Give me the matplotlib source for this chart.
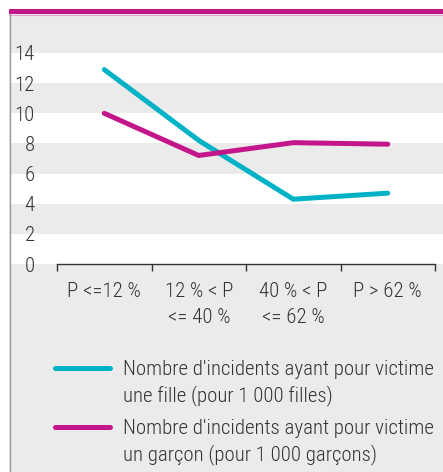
import matplotlib
matplotlib.use("Agg")
import matplotlib.pyplot as plt
import numpy as np
from matplotlib.lines import Line2D
from matplotlib.patches import Rectangle

categories = ["P <=12 %", "12 % < P\n<= 40 %", "40 % < P\n<= 62 %", "P > 62 %"]
filles = [12.9, 8.2, 4.3, 4.7]
garcons = [10.0, 7.2, 8.05, 7.95]
yticks = [0, 2, 4, 6, 8, 10, 12, 14]
legend_labels = [
    "Nombre d'incidents ayant pour victime\nune fille (pour 1 000 filles)",
    "Nombre d'incidents ayant pour victime\nun garçon (pour 1 000 garçons)",
]

CYAN = "#00b2c6"
MAGENTA = "#c4168b"
BG = "#ebebeb"
TXT = "#333333"
FS = 15

plt.rcParams["font.family"] = ["Roboto Condensed", "DejaVu Sans"]
plt.rcParams["font.weight"] = "light"

W, H = 443, 472
fig = plt.figure(figsize=(W / 100, H / 100), dpi=100)


def fx(px):
    return px / W


def fy(py):
    return 1 - py / H


# panel background, top bar, left border
fig.add_artist(Rectangle((fx(9), 0), 1, fy(14), transform=fig.transFigure,
                         facecolor=BG, edgecolor="none", zorder=0))
fig.add_artist(Rectangle((fx(9), fy(14)), 1, fy(9) - fy(14), transform=fig.transFigure,
                         facecolor=MAGENTA, edgecolor="none", zorder=1))
fig.add_artist(Line2D([fx(9), 1], [fy(14.5), fy(14.5)], transform=fig.transFigure,
                      color="#e6a3cf", lw=0.8, zorder=1))
fig.add_artist(Line2D([fx(9.5), fx(9.5)], [0, fy(14)], transform=fig.transFigure,
                      color="#9a9a9a", lw=1.0, zorder=1))

ymax = (264 - 15) / ((264 - 53) / 14)

# stripes axes spanning the full panel width
bg = fig.add_axes([fx(10), fy(264), fx(443) - fx(10), fy(15) - fy(264)])
bg.set_xlim(0, 1)
bg.set_ylim(0, ymax)
bg.patch.set_visible(False)
for lo in range(0, 14, 4):
    bg.axhspan(lo, lo + 2, color="white", lw=0)
bg.axis("off")

ax = fig.add_axes([fx(57), fy(264), fx(435) - fx(57), fy(15) - fy(264)])
ax.patch.set_visible(False)
x = np.arange(len(categories))
ax.plot(x, filles, color=CYAN, lw=3.6, solid_capstyle="round", solid_joinstyle="miter")
ax.plot(x, garcons, color=MAGENTA, lw=3.6, solid_capstyle="round", solid_joinstyle="miter")
ax.set_xlim(-0.5, len(categories) - 0.5)
ax.set_ylim(0, ymax)

for s in ["top", "right", "left"]:
    ax.spines[s].set_visible(False)
ax.spines["bottom"].set_color("#333333")
ax.spines["bottom"].set_linewidth(1.0)

ax.set_xticks(x)
ax.set_xticklabels(categories, fontsize=FS, color=TXT, linespacing=1.45, va="top")
ax.set_xticks(np.arange(len(categories) + 1) - 0.5, minor=True)
ax.tick_params(axis="x", which="major", length=0, pad=13)
ax.tick_params(axis="x", which="minor", length=5, width=1.0, color="#333333", direction="out")

ax.set_yticks(yticks)
ax.set_yticklabels([str(v) for v in yticks], fontsize=FS, color=TXT)
ax.tick_params(axis="y", length=0, pad=16)

# legend, handle aligned with first text line
entries = [(CYAN, 368), (MAGENTA, 427)]
for (col, py), label in zip(entries, legend_labels):
    fig.add_artist(Line2D([fx(55), fx(110)], [fy(py), fy(py)], transform=fig.transFigure,
                          color=col, lw=3.6, solid_capstyle="round"))
    fig.text(fx(123), fy(py - 8), label, fontsize=FS, color=TXT,
             va="top", ha="left", linespacing=1.35)

fig.savefig("out.png", dpi=100)
